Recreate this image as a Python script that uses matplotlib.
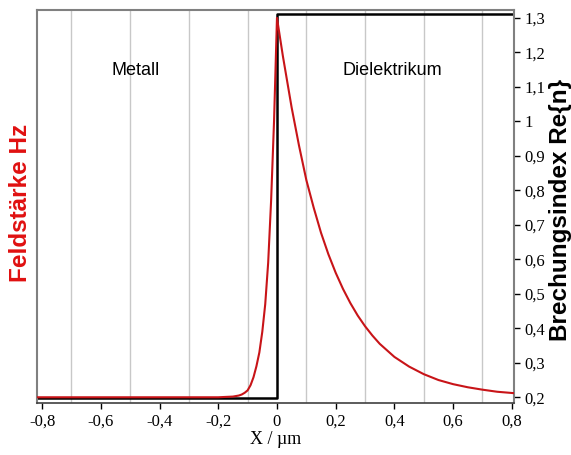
import numpy as np
import matplotlib
matplotlib.use("Agg")
import matplotlib.pyplot as plt
from matplotlib.ticker import FixedLocator, FixedFormatter

# Field strength Hz (red)
field_x = [-0.82, -0.20, -0.15, -0.13, -0.12, -0.11, -0.10, -0.09, -0.08,
           -0.07, -0.06, -0.05, -0.04, -0.03, -0.02, -0.01, 0.0,
           0.02, 0.05, 0.075, 0.10, 0.125, 0.15, 0.175, 0.20, 0.225, 0.25,
           0.275, 0.30, 0.325, 0.35, 0.40, 0.45, 0.50, 0.55, 0.60, 0.65,
           0.70, 0.75, 0.82]
field_y = [0.200, 0.200, 0.202, 0.205, 0.208, 0.213, 0.220, 0.235, 0.258,
           0.290, 0.330, 0.390, 0.470, 0.590, 0.770, 1.000, 1.300,
           1.190, 1.040, 0.930, 0.830, 0.750, 0.677, 0.615, 0.561, 0.514,
           0.473, 0.437, 0.406, 0.379, 0.355, 0.317, 0.289, 0.267, 0.250,
           0.238, 0.229, 0.222, 0.216, 0.211]

# Refractive index Re{n} (black step)
index_x = [-0.82, 0.0, 0.0, 0.82]
index_y = [0.198, 0.198, 1.31, 1.31]

x_ticks = [-0.8, -0.6, -0.4, -0.2, 0.0, 0.2, 0.4, 0.6, 0.8]
x_labels = ["-0,8", "-0,6", "-0,4", "-0,2", "0", "0,2", "0,4", "0,6", "0,8"]
grid_x = [-0.7, -0.5, -0.3, -0.1, 0.1, 0.3, 0.5, 0.7]
y_ticks = [0.2, 0.3, 0.4, 0.5, 0.6, 0.7, 0.8, 0.9, 1.0, 1.1, 1.2, 1.3]
y_labels = ["0,2", "0,3", "0,4", "0,5", "0,6", "0,7", "0,8", "0,9", "1",
            "1,1", "1,2", "1,3"]

fig = plt.figure(figsize=(5.71, 4.55), dpi=100)
ax = fig.add_axes([0.065, 0.114, 0.835, 0.864])

for gx in grid_x:
    ax.axvline(gx, color="#c8c8c8", lw=1.0, zorder=0)

ax.plot(index_x, index_y, color="black", lw=1.8, zorder=2)
ax.plot(field_x, field_y, color="#c81418", lw=1.5, zorder=3)

ax.set_xlim(-0.817, 0.807)
ax.set_ylim(0.183, 1.323)

ax.xaxis.set_major_locator(FixedLocator(x_ticks))
ax.xaxis.set_major_formatter(FixedFormatter(x_labels))
ax.yaxis.tick_right()
ax.yaxis.set_major_locator(FixedLocator(y_ticks))
ax.yaxis.set_major_formatter(FixedFormatter(y_labels))
ax.tick_params(axis="both", direction="out", length=4, width=1,
               labelsize=12, color="black")
for lab in ax.get_xticklabels() + ax.get_yticklabels():
    lab.set_family("Liberation Serif")

for side in ["left", "right", "top"]:
    ax.spines[side].set_color("#808080")
    ax.spines[side].set_linewidth(1.5)
ax.spines["bottom"].set_color("#404040")
ax.spines["bottom"].set_linewidth(1.2)

ax.set_xlabel("X / µm", family="Liberation Serif", fontsize=13, labelpad=1)
fig.text(560 / 571, 1 - 210 / 455, "Brechungsindex Re{n}", rotation=90,
         ha="center", va="center", family="Liberation Sans", fontsize=17.5,
         fontweight="bold")
ax.text(-0.035, 0.51, "Feldstärke Hz", transform=ax.transAxes, rotation=90,
        ha="center", va="center", family="Liberation Sans", fontsize=17.5,
        fontweight="bold", color="#e01010")

ax.text(-0.483, 1.148, "Metall", ha="center", va="center",
        family="Liberation Sans", fontsize=13)
ax.text(0.393, 1.148, "Dielektrikum", ha="center", va="center",
        family="Liberation Sans", fontsize=13)

fig.savefig("out.png", dpi=100)
